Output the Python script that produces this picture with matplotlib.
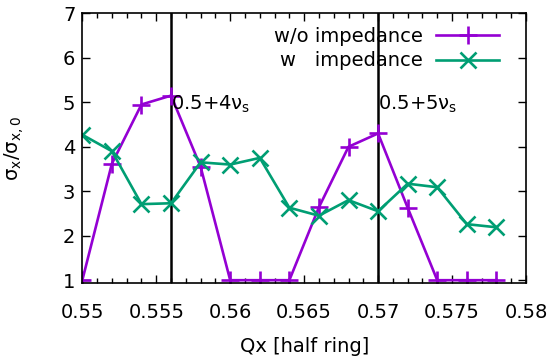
import numpy as np
import matplotlib
matplotlib.use('Agg')
import matplotlib.pyplot as plt
from matplotlib.ticker import MultipleLocator

# tune scan, Qx [half ring]
qx = [0.550, 0.552, 0.554, 0.556, 0.558, 0.560, 0.562, 0.564,
      0.566, 0.568, 0.570, 0.572, 0.574, 0.576, 0.578]
# sigma_x / sigma_x0
wo_imp = [1.0, 3.62, 4.95, 5.15, 3.55, 1.0, 1.0, 1.0,
          2.64, 4.0, 4.3, 2.63, 1.0, 1.0, 1.0]
w_imp = [4.27, 3.9, 2.71, 2.73, 3.65, 3.6, 3.75, 2.63,
         2.45, 2.8, 2.55, 3.17, 3.09, 2.26, 2.19]

nu_s = 0.014
resonances = [4, 5]

plt.rcParams['font.family'] = ['DejaVu Sans']
plt.rcParams['mathtext.fontset'] = 'dejavusans'
fs = 14

fig = plt.figure(figsize=(5.55, 3.6), dpi=100)
ax = fig.add_axes([0.1483, 0.213, 0.7994, 0.750])

ax.plot(qx, wo_imp, color='#9400D3', lw=1.9, marker='+', ms=13, mew=1.9,
        label='w/o impedance')
ax.plot(qx, w_imp, color='#009E73', lw=1.9, marker='x', ms=11, mew=1.9,
        label='w   impedance')

for m in resonances:
    xr = 0.5 + m * nu_s
    ax.axvline(xr, color='black', lw=1.8, zorder=1)
    ax.text(xr, 4.95, '0.5+%dν$_\\mathrm{s}$' % m, fontsize=fs,
            ha='left', va='center')

ax.set_xlim(0.55, 0.58)
ax.set_ylim(0.93, 7)
ax.xaxis.set_minor_locator(MultipleLocator(0.001))
ax.yaxis.set_major_locator(MultipleLocator(1))
ax.set_xticks([0.55, 0.555, 0.56, 0.565, 0.57, 0.575, 0.58])
ax.set_xticklabels(['0.55', '0.555', '0.56', '0.565', '0.57', '0.575', '0.58'])
ax.tick_params(which='both', direction='in', top=True, right=True, labelsize=fs)
ax.tick_params(which='major', length=6, width=1)
ax.tick_params(which='minor', length=3.5, width=1)
ax.tick_params(axis='x', pad=14)
ax.tick_params(axis='y', pad=5)
for s in ax.spines.values():
    s.set_linewidth(1.2)

ax.set_xlabel('Qx [half ring]', fontsize=fs)
ax.xaxis.set_label_coords(0.5, -0.2)
ax.set_ylabel('σ$_\\mathrm{x}$/σ$_\\mathrm{x,0}$', fontsize=fs)
ax.yaxis.set_label_coords(-0.128, 0.5)

leg = ax.legend(loc='upper right', bbox_to_anchor=(0.957, 0.979),
                borderaxespad=0, frameon=False, fontsize=fs,
                markerfirst=False, handlelength=3.25, handletextpad=0.67,
                labelspacing=0.29)
for t in leg.get_texts():
    t.set_ha('right')
leg._legend_box.align = 'right'

fig.savefig('out.png', dpi=100)
